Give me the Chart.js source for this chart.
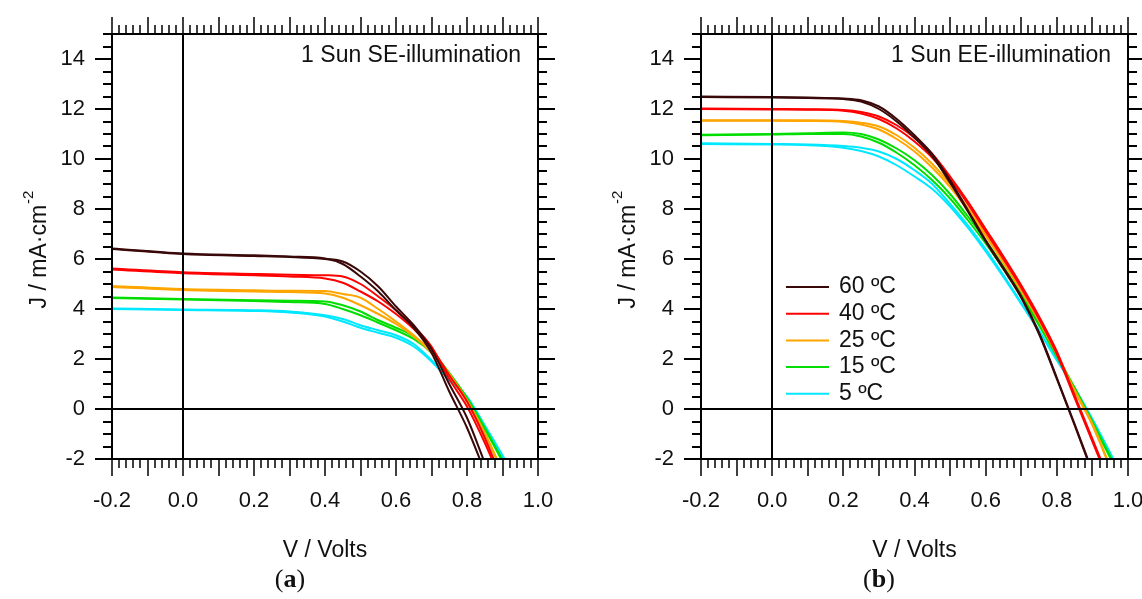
<!DOCTYPE html>
<html lang="en">
<head>
<meta charset="UTF-8">
<title>J-V curves, SE and EE illumination</title>
<script src="https://cdn.jsdelivr.net/npm/chart.js"></script>
<style>
  body { margin: 0; background: #fff; }
  #wrap { position: relative; width: 1142px; height: 599px; }
  .panel { position: absolute; top: 0; width: 571px; height: 599px; }
</style>
</head>
<body>
<div id="wrap">
  <div class="panel" style="left:0"><canvas id="chartA" width="571" height="599"></canvas></div>
  <div class="panel" style="left:571px"><canvas id="chartB" width="571" height="599"></canvas></div>
</div>

<script>
// legend labels and colours (one per temperature, two scans each)
const temps = ['60 \u00BAC', '40 \u00BAC', '25 \u00BAC', '15 \u00BAC', '5 \u00BAC'];
const colors = ['#3a0808', '#ff0000', '#ffa500', '#00dd00', '#00e8ff'];

const xTicks = [-0.2, 0.0, 0.2, 0.4, 0.6, 0.8, 1.0];
const yTicks = [-2, 0, 2, 4, 6, 8, 10, 12, 14];

// (a) 1 Sun SE-illumination : voltage grid (V) and current density (mA/cm2)
const vSE = [-0.2, 0, 0.2, 0.3, 0.4, 0.45, 0.5, 0.55, 0.6, 0.65, 0.7, 0.75, 0.8, 0.85, 0.9, 0.95];
const se60a = [6.42, 6.22, 6.15, 6.10, 6.02, 5.80, 5.30, 4.70, 3.95, 3.25, 2.25, 0.70, -0.75, -2.50, null, null];
const se60b = [6.40, 6.20, 6.12, 6.08, 6.00, 5.90, 5.50, 4.90, 4.10, 3.35, 2.40, 1.00, -0.35, -2.15, null, null];
const se40a = [5.62, 5.47, 5.40, 5.37, 5.35, 5.30, 5.00, 4.50, 3.95, 3.30, 2.50, 1.20, 0.10, -1.35, -3.00, null];
const se40b = [5.58, 5.43, 5.35, 5.30, 5.22, 5.05, 4.70, 4.30, 3.80, 3.20, 2.45, 1.35, 0.30, -1.15, -2.90, null];
const se25a = [4.92, 4.80, 4.75, 4.73, 4.72, 4.60, 4.45, 4.00, 3.50, 2.95, 2.30, 1.40, 0.35, -0.95, -2.50, null];
const se25b = [4.88, 4.76, 4.70, 4.68, 4.62, 4.45, 4.15, 3.80, 3.40, 2.90, 2.25, 1.35, 0.30, -1.00, -2.55, null];
const se15a = [4.46, 4.40, 4.35, 4.33, 4.30, 4.15, 3.90, 3.55, 3.25, 2.90, 2.30, 1.45, 0.45, -0.75, -2.05, null];
const se15b = [4.44, 4.38, 4.32, 4.28, 4.20, 4.00, 3.75, 3.45, 3.15, 2.80, 2.25, 1.40, 0.40, -0.80, -2.10, null];
const se5a  = [4.02, 3.98, 3.95, 3.90, 3.75, 3.60, 3.35, 3.15, 2.95, 2.60, 1.95, 1.20, 0.50, -0.65, -1.85, -3.10];
const se5b  = [4.00, 3.96, 3.92, 3.86, 3.70, 3.50, 3.25, 3.05, 2.85, 2.50, 1.90, 1.15, 0.45, -0.70, -1.90, -3.10];

// (b) 1 Sun EE-illumination
const vEE = [-0.2, 0, 0.1, 0.2, 0.25, 0.3, 0.35, 0.4, 0.45, 0.5, 0.55, 0.6, 0.65, 0.7, 0.75, 0.8, 0.85, 0.9, 0.95, 1.0];
const ee60a = [12.50, 12.48, 12.46, 12.42, 12.35, 12.10, 11.60, 10.95, 10.20, 9.15, 7.95, 6.75, 5.65, 4.50, 3.05, 1.25, -0.60, -2.50, null, null];
const ee60b = [12.48, 12.46, 12.44, 12.40, 12.30, 12.00, 11.50, 10.85, 10.10, 9.05, 7.90, 6.70, 5.60, 4.45, 3.00, 1.20, -0.65, -2.55, null, null];
const ee40a = [12.02, 12.00, 11.99, 11.96, 11.88, 11.70, 11.35, 10.85, 10.20, 9.30, 8.30, 7.20, 6.10, 4.95, 3.70, 2.30, 0.55, -1.20, -2.95, null];
const ee40b = [12.00, 11.98, 11.97, 11.93, 11.82, 11.60, 11.22, 10.70, 10.05, 9.20, 8.20, 7.10, 6.00, 4.85, 3.60, 2.20, 0.45, -1.30, -3.05, null];
const ee25a = [11.55, 11.55, 11.55, 11.52, 11.45, 11.30, 10.95, 10.45, 9.80, 9.00, 8.05, 7.00, 5.90, 4.75, 3.55, 2.20, 0.75, -0.60, -2.30, null];
const ee25b = [11.53, 11.53, 11.52, 11.48, 11.38, 11.18, 10.80, 10.30, 9.65, 8.88, 7.95, 6.92, 5.85, 4.72, 3.52, 2.18, 0.72, -0.65, -2.35, null];
const ee15a = [10.97, 11.00, 11.03, 11.06, 11.00, 10.78, 10.42, 9.95, 9.35, 8.60, 7.70, 6.75, 5.70, 4.60, 3.40, 2.15, 0.85, -0.50, -1.90, -3.35];
const ee15b = [10.95, 10.98, 11.00, 11.00, 10.90, 10.65, 10.25, 9.75, 9.15, 8.42, 7.55, 6.62, 5.60, 4.52, 3.35, 2.10, 0.80, -0.55, -1.95, -3.40];
const ee5a  = [10.63, 10.60, 10.58, 10.52, 10.45, 10.30, 10.00, 9.55, 9.00, 8.20, 7.35, 6.40, 5.35, 4.25, 3.15, 2.00, 0.85, -0.40, -1.75, -3.15];
const ee5b  = [10.60, 10.58, 10.55, 10.45, 10.32, 10.10, 9.75, 9.30, 8.80, 8.10, 7.25, 6.30, 5.28, 4.20, 3.10, 1.95, 0.80, -0.45, -1.80, -3.20];

const FONT = "'Liberation Sans', Arial, sans-serif";
const SERIF = "'Liberation Serif', 'Times New Roman', serif";

function makeSets(v, curves) {
    let sets = [];
    for (let i = 0; i < curves.length; i++) {
        let pts = [];
        for (let k = 0; k < v.length; k++) {
            if (curves[i][k] !== null) pts.push({ x: v[k], y: curves[i][k] });
        }
        sets.push({
            data: pts,
            borderColor: colors[Math.floor(i / 2)],
            borderWidth: 2,
            pointRadius: 0,
            showLine: true,
            fill: false,
            cubicInterpolationMode: 'monotone'
        });
    }
    return sets;
}

// frame, ticks on all sides, zero lines, titles and the legend
const framePlugin = {
    id: 'frame',
    afterDatasetsDraw(chart, args, opts) {
        const ctx = chart.ctx;
        const a = chart.chartArea;
        const xs = chart.scales.x, ys = chart.scales.y;
        ctx.save();
        ctx.strokeStyle = '#000';
        ctx.fillStyle = '#111';

        // zero lines
        ctx.lineWidth = 2;
        const x0 = Math.round(xs.getPixelForValue(0));
        const y0 = Math.round(ys.getPixelForValue(0));
        ctx.beginPath();
        ctx.moveTo(x0, a.top); ctx.lineTo(x0, a.bottom);
        ctx.moveTo(a.left, y0); ctx.lineTo(a.right, y0);
        ctx.stroke();

        // box
        ctx.strokeRect(a.left, a.top, a.right - a.left, a.bottom - a.top);

        // x ticks (top and bottom, outward)
        ctx.lineWidth = 1.5;
        ctx.beginPath();
        for (let i = -10; i <= 50; i++) {
            const px = Math.round(xs.getPixelForValue(i / 50));
            const len = (i % 5 === 0) ? 17 : 9;
            ctx.moveTo(px, a.bottom); ctx.lineTo(px, a.bottom + len);
            ctx.moveTo(px, a.top); ctx.lineTo(px, a.top - len);
        }
        ctx.stroke();

        // y ticks (left and right, outward)
        ctx.lineWidth = 2;
        ctx.beginPath();
        for (let i = -4; i <= 30; i++) {
            const py = Math.round(ys.getPixelForValue(i / 2));
            const len = (i % 4 === 0) ? 17 : 9;
            ctx.moveTo(a.left, py); ctx.lineTo(a.left - len, py);
            ctx.moveTo(a.right, py); ctx.lineTo(a.right + len, py);
        }
        ctx.stroke();

        // note in the top right corner
        ctx.font = '23px ' + FONT;
        ctx.textAlign = 'right';
        ctx.textBaseline = 'middle';
        ctx.fillText(opts.note, a.right - 17, 56);

        // x title
        ctx.textAlign = 'center';
        ctx.fillText('V / Volts', (a.left + a.right) / 2, 551);

        // y title with superscript
        ctx.save();
        ctx.translate(a.left - 72, 250);
        ctx.rotate(-Math.PI / 2);
        ctx.textAlign = 'left';
        const main = 'J / mA\u00B7cm';
        const w = ctx.measureText(main).width;
        ctx.font = '15px ' + FONT;
        const ws = ctx.measureText('-2').width;
        const start = -(w + ws) / 2;
        ctx.font = '23px ' + FONT;
        ctx.fillText(main, start, 0);
        ctx.font = '15px ' + FONT;
        ctx.fillText('-2', start + w + 1, -11);
        ctx.restore();

        // panel label "(a)" with bold letter
        const cx = a.left + 178, cy = 580;
        ctx.textAlign = 'left';
        ctx.font = '26px ' + SERIF;
        const wp = ctx.measureText('(').width;
        ctx.font = 'bold 26px ' + SERIF;
        const wl = ctx.measureText(opts.panel).width;
        let px = cx - (2 * wp + wl) / 2;
        ctx.font = '26px ' + SERIF;
        ctx.fillText('(', px, cy);
        ctx.font = 'bold 26px ' + SERIF;
        ctx.fillText(opts.panel, px + wp, cy);
        ctx.font = '26px ' + SERIF;
        ctx.fillText(')', px + wp + wl, cy);

        // legend
        if (opts.legend) {
            ctx.font = '23px ' + FONT;
            ctx.textAlign = 'left';
            for (let i = 0; i < temps.length; i++) {
                const ly = 287 + i * 26.7;
                ctx.strokeStyle = colors[i];
                ctx.lineWidth = 2;
                ctx.beginPath();
                ctx.moveTo(a.left + 85, ly); ctx.lineTo(a.left + 128, ly);
                ctx.stroke();
                ctx.fillText(temps[i], a.left + 138, ly);
            }
        }
        ctx.restore();
    }
};

function makeChart(id, v, curves, note, panel, legend, yWidth, padRight) {
    return new Chart(document.getElementById(id), {
        type: 'scatter',
        data: { datasets: makeSets(v, curves) },
        options: {
            responsive: false,
            animation: false,
            devicePixelRatio: 1,
            layout: { padding: { left: 0, right: padRight, top: 34, bottom: 0 } },
            plugins: {
                legend: { display: false },
                tooltip: { enabled: false },
                frame: { note: note, panel: panel, legend: legend }
            },
            scales: {
                x: {
                    type: 'linear', min: -0.2, max: 1.0,
                    grid: { display: false, drawTicks: false },
                    border: { display: false },
                    afterBuildTicks: (s) => { s.ticks = xTicks.map(t => ({ value: t })); },
                    ticks: {
                        padding: 29, color: '#111', maxRotation: 0,
                        font: { family: FONT, size: 22 },
                        callback: (val) => Number(val).toFixed(1)
                    },
                    afterFit: (s) => { s.height = 140; s.paddingLeft = 0; s.paddingRight = 0; }
                },
                y: {
                    type: 'linear', min: -2, max: 15,
                    grid: { display: false, drawTicks: false },
                    border: { display: false },
                    afterBuildTicks: (s) => { s.ticks = yTicks.map(t => ({ value: t })); },
                    ticks: {
                        padding: 27, color: '#111',
                        font: { family: FONT, size: 22 }
                    },
                    afterFit: (s) => { s.width = yWidth; s.paddingTop = 0; s.paddingBottom = 0; }
                }
            }
        },
        plugins: [framePlugin]
    });
}

makeChart('chartA', vSE,
    [se60a, se60b, se40a, se40b, se25a, se25b, se15a, se15b, se5a, se5b],
    '1 Sun SE-illumination', 'a', false, 112, 33);
makeChart('chartB', vEE,
    [ee60a, ee60b, ee40a, ee40b, ee25a, ee25b, ee15a, ee15b, ee5a, ee5b],
    '1 Sun EE-illumination', 'b', true, 130, 14);
</script>
</body>
</html>
